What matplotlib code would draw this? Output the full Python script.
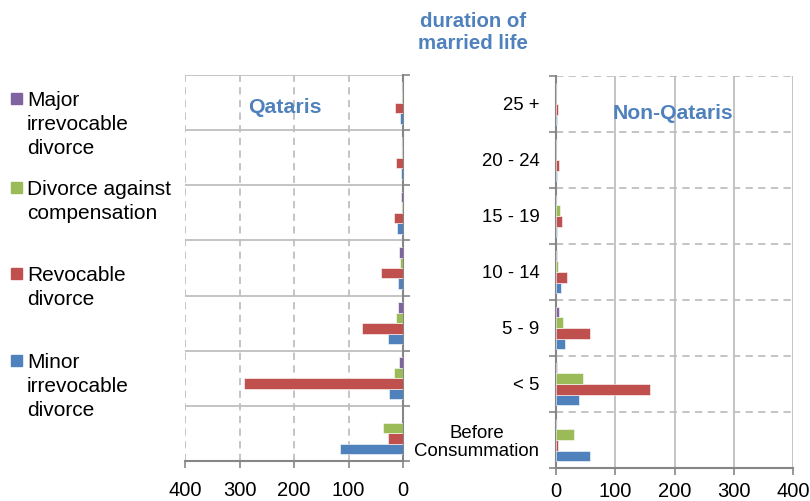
import matplotlib
matplotlib.use("Agg")
import matplotlib.pyplot as plt
import numpy as np

plt.rcParams['font.family'] = ['Liberation Sans', 'DejaVu Sans']

categories = ["Before\nConsummation", "< 5", "5 - 9", "10 - 14", "15 - 19", "20 - 24", "25 +"]
series = ["Minor irrevocable divorce", "Revocable divorce", "Divorce against compensation", "Major irrevocable divorce"]
legend_labels = [["Major", "irrevocable", "divorce"], ["Divorce against", "compensation"],
                 ["Revocable", "divorce"], ["Minor", "irrevocable", "divorce"]]
colors = ["#4F81BD", "#C0504D", "#9BBB59", "#8064A2"]

# values ordered as categories (bottom to top)
qatar_minor = [116, 25, 28, 10, 11, 3, 5]
qatar_revocable = [28, 292, 76, 41, 16, 12, 14]
qatar_compensation = [37, 17, 12, 5, 1, 1, 1]
qatar_major = [0, 7, 10, 7, 3, 1, 2]

nonq_minor = [57, 39, 15, 8, 2, 1, 1]
nonq_revocable = [3, 158, 57, 19, 10, 5, 3]
nonq_compensation = [31, 45, 12, 4, 6, 0, 0]
nonq_major = [0, 2, 5, 1, 0, 0, 0]

qatar = [qatar_minor, qatar_revocable, qatar_compensation, qatar_major]
nonq = [nonq_minor, nonq_revocable, nonq_compensation, nonq_major]
xticks = [0, 100, 200, 300, 400]

W, H = 810, 501
fig = plt.figure(figsize=(W / 100, H / 100), dpi=100)

def px_axes(x0, y0, x1, y1):
    return fig.add_axes([x0 / W, 1 - y1 / H, (x1 - x0) / W, (y1 - y0) / H])

def fy(ypx):
    return 1 - ypx / H

axL = px_axes(185, 75, 403, 461)
axR = px_axes(556, 76, 793, 468)

y = np.arange(len(categories))
h = 0.19
offsets = [-1.5 * h, -0.5 * h, 0.5 * h, 1.5 * h]
grid_c = "#BFBFBF"
axis_c = "#868686"
blue_t = "#4F81BD"

for ax, data in ((axL, qatar), (axR, nonq)):
    for vals, off, col in zip(data, offsets, colors):
        ax.barh(y + off, vals, height=h, color=col, edgecolor='white', linewidth=0.4, zorder=3)
    ax.set_ylim(-0.5, len(categories) - 0.5)
    ax.set_xlim(0, 400)
    ax.set_xticks(xticks)
    ax.set_xticklabels([str(t) for t in xticks], fontsize=14.5)
    ax.set_yticks(y)
    ax.set_yticks(np.arange(-0.5, len(categories) + 0.5, 1), minor=True)
    ax.tick_params(axis='y', which='major', length=0)
    ax.tick_params(axis='y', which='minor', length=5, color=axis_c, width=1.2)
    ax.tick_params(axis='x', length=5, color=axis_c, width=1.2)
    for s in ax.spines.values():
        s.set_visible(False)
    ax.spines['bottom'].set_visible(True)
    ax.spines['bottom'].set_color(axis_c)
    ax.spines['bottom'].set_linewidth(1.5)
    ax.set_axisbelow(True)

# left panel
axL.invert_xaxis()
axL.tick_params(axis='x', pad=9.4)
axL.yaxis.tick_right()
axL.set_yticklabels([])
axL.spines['right'].set_visible(True)
axL.spines['right'].set_color(axis_c)
axL.spines['right'].set_linewidth(1.5)
axL.grid(axis='y', which='minor', color=grid_c, linestyle='-', linewidth=1.3)
axL.grid(axis='x', which='major', color=grid_c, linestyle=(0, (4, 3)), linewidth=1.3)
fig.text(285 / W, fy(113), "Qataris", ha='center', va='baseline',
         fontsize=15.3, fontweight='bold', color=blue_t)

# right panel
axR.tick_params(axis='x', pad=5.2)
axR.spines['left'].set_visible(True)
axR.spines['left'].set_color(axis_c)
axR.spines['left'].set_linewidth(1.5)
axR.set_yticklabels(categories, fontsize=13.4, multialignment='center', linespacing=1.05)
axR.tick_params(axis='y', which='major', pad=12)
axR.grid(axis='y', which='minor', color=grid_c, linestyle=(0, (4, 3)), linewidth=1.3)
axR.grid(axis='x', which='major', color=grid_c, linestyle='-', linewidth=1.3)
fig.text(672.5 / W, fy(119), "Non-Qataris", ha='center', va='baseline',
         fontsize=15.2, fontweight='bold', color=blue_t)

# central title
for line, base in (("duration of", 27), ("married life", 49)):
    fig.text(473 / W, fy(base), line, ha='center', va='baseline',
             fontsize=14.7, fontweight='bold', color=blue_t)

# legend
square_tops = [93, 182, 268, 355]
for lines, top, col in zip(legend_labels, square_tops, colors[::-1]):
    fig.patches.append(plt.Rectangle((11 / W, fy(top + 10.5)), 11 / W, 10.5 / H,
                                     transform=fig.transFigure, color=col))
    for i, line in enumerate(lines):
        fig.text(27 / W, fy(top + 13 + 24 * i), line, ha='left', va='baseline', fontsize=15)

fig.savefig("out.png", dpi=100)
